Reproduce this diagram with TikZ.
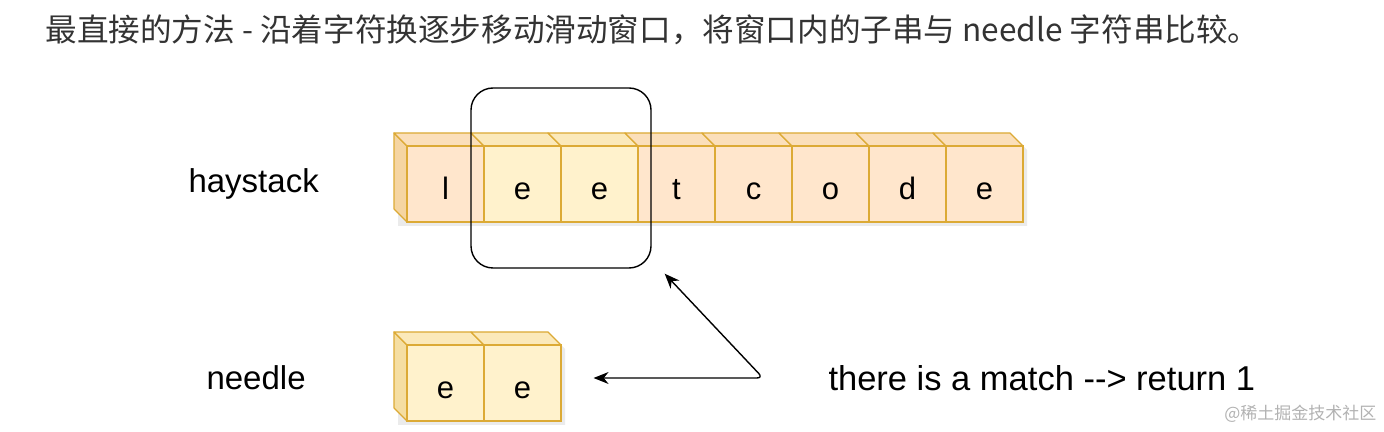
\documentclass[tikz,border=0pt]{standalone}
\usepackage{fontspec}
\setmainfont{Liberation Sans}
\newfontfamily\cjkfont{Noto Sans CJK SC}
\usetikzlibrary{arrows.meta}
\definecolor{peachfill}{HTML}{FFE6CC}
\definecolor{creamfill}{HTML}{FFF2CC}
\definecolor{goldline}{HTML}{DCAA35}
\begin{document}
\begin{tikzpicture}[x=1pt,y=1pt,>={Stealth[length=15pt,width=12pt]},
  cell/.style={draw=goldline,line width=1.2pt,minimum width=77pt,minimum height=76pt,
    inner sep=0pt,text height=32pt,text depth=0pt,font=\fontsize{31}{31}\selectfont},
  facetop/.style={draw=goldline,line width=1.2pt,line join=round},
  lbl/.style={anchor=base west,font=\fontsize{33}{33}\selectfont},
  shade/.style={fill=black,opacity=0.08}
]
\useasboundingbox (0,0) rectangle (1384,431);

% Title
\node[anchor=west,text=black!80,font=\cjkfont\fontsize{31.6}{32}\selectfont] (title) at (42,401)
  {最直接的方法 - 沿着字符换逐步移动滑动窗口，将窗口内的子串与 needle 字符串比较。};

% Haystack
\node[lbl] (hlabel) at (185,238) {haystack};
\fill[shade] (398,205) -- (1027,205) -- (1027,281) -- (1014,294) -- (398,294) -- cycle;
\filldraw[facetop,fill=peachfill!72!goldline] (407,285) -- (394,298) -- (394,222) -- (407,209) -- cycle;
\foreach \ch/\col [count=\i] in {l/peachfill,e/creamfill,e/creamfill,t/peachfill,c/peachfill,o/peachfill,d/peachfill,e/peachfill} {
    \filldraw[facetop,fill=\col!88!goldline] (330+77*\i,285) -- ++(-13,13) -- ++(77,0) -- ++(13,-13) -- cycle;
    \node[cell,fill=\col] (h\i) at (368.5+77*\i,247) {\ch};
}

% Sliding window
\node[draw,line width=1.4pt,rounded corners=22pt,minimum width=180pt,minimum height=180pt] (win) at (561,253) {};

% Needle
\node[lbl] (nlabel) at (203,41) {needle};
\fill[shade] (398,6) -- (565,6) -- (565,82) -- (552,95) -- (398,95) -- cycle;
\filldraw[facetop,fill=creamfill!72!goldline] (407,86) -- (394,99) -- (394,23) -- (407,10) -- cycle;
\foreach \ch [count=\i] in {e,e} {
    \filldraw[facetop,fill=creamfill!88!goldline] (330+77*\i,86) -- ++(-13,13) -- ++(77,0) -- ++(13,-13) -- cycle;
    \node[cell,fill=creamfill] (n\i) at (368.5+77*\i,48) {\ch};
}

% Match arrow
\node[lbl,font=\fontsize{34.5}{34.5}\selectfont] (result) at (825,40) {there is a match -{}-> return 1};
\coordinate (wtip) at ([shift={(13,-5)}]win.south east);
\coordinate (bend) at (763,53);
\coordinate (ntip) at ([shift={(32,5)}]n2.east);
\draw[<->,line width=1.4pt,rounded corners=6pt] (wtip) -- (bend) -- (ntip);

% Watermark
\node[anchor=base east,text=black!30,font=\cjkfont\fontsize{17}{17}\selectfont] (mark) at (1380,12) {@稀土掘金技术社区};

\end{tikzpicture}
\end{document}
